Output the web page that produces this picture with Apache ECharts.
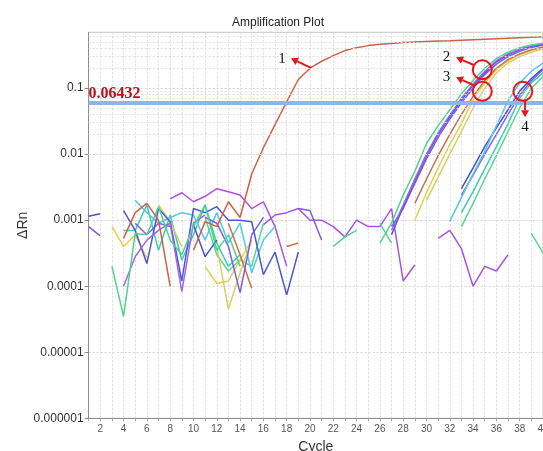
<!DOCTYPE html>
<html>
<head>
<meta charset="utf-8">
<script src="https://cdn.jsdelivr.net/npm/echarts@6/dist/echarts.min.js"></script>
<style>html,body{margin:0;padding:0;background:#fff}#c{width:543px;height:451px}</style>
</head>
<body>
<div id="c"></div>
<script>
const N = null;
const cycles = Array.from({length: 40}, (_, i) => i + 1);
const threshold = 0.06432;
const yTickLabels = ['0.000001', '0.00001', '0.0001', '0.001', '0.01', '0.1'];

// amplification curve 1
const curve1 = [N,N,N,0.00053,0.0013,0.0018,0.001,0.0001,N,0.00035,
  0.00095,0.0008,0.0019,0.0011,0.005,0.0125,0.028,0.062,0.135,0.2,
  0.255,0.31,0.37,0.41,0.44,0.46,0.475,0.49,0.5,0.51,
  0.515,0.52,0.53,0.54,0.55,0.56,0.57,0.58,0.59,0.6];
// group 2
const greenA = [N,N,0.0002,0.000035,0.00063,0.0006,0.0016,0.0005,0.0003,0.0008,
  0.0017,0.00035,0.0006,0.0002,N,N,N,N,N,N,
  N,0.0004,0.00056,0.0007,N,0.00045,0.0009,0.0024,0.0055,0.0145,
  0.027,0.047,0.082,0.13,0.2,0.28,0.35,0.41,0.45,0.48];
const purpleA = [N,N,N,0.0001,0.00028,0.0005,0.0007,0.0009,0.000083,0.0009,
  0.0012,N,N,N,N,N,N,N,N,N,
  N,N,N,N,N,N,0.0007,0.0017,0.0042,0.01,
  0.021,0.039,0.07,0.115,0.18,0.26,0.33,0.39,0.44,0.47];
const blueA = [0.00115,0.00125,N,0.0014,0.0007,0.00022,0.0015,0.00095,0.00012,0.0015,
  0.0013,0.0016,0.001,0.001,0.00095,0.00015,0.00033,0.000074,0.00033,N,
  N,N,N,N,N,N,0.0006,0.0016,0.004,0.0095,
  0.02,0.037,0.066,0.11,0.17,0.25,0.32,0.38,0.43,0.46];
const violetA = [0.0008,0.00058,N,N,N,N,N,N,N,N,
  0.0011,0.0009,0.0004,0.00008,0.0006,0.0011,N,N,0.0015,0.0014,
  0.0005,N,N,N,N,N,0.0008,0.0015,0.0036,0.0085,
  0.018,0.034,0.06,0.1,0.16,0.23,0.3,0.36,0.41,0.45];
// group 3
const brownB = [N,N,N,N,N,N,N,N,N,N,
  N,N,0.0009,0.0003,0.000093,N,N,0.0004,0.00045,N,
  N,N,N,N,N,N,N,N,0.0018,0.0042,
  0.0095,0.02,0.04,0.075,0.13,0.2,0.27,0.33,0.38,0.42];
const yellowB = [N,N,0.0008,0.0004,0.0006,0.00027,N,N,N,N,
  0.0002,0.00011,0.00012,0.00025,0.0005,N,N,N,N,N,
  N,N,N,N,N,N,N,N,0.001,0.0026,
  0.0062,0.014,0.029,0.068,0.12,0.19,0.26,0.32,0.37,0.41];
const yellowB2 = [N,N,N,N,N,N,0.0017,0.00095,0.0004,N,
  N,0.0004,0.000045,0.00016,0.0005,N,N,N,N,N,
  N,N,N,N,N,N,N,N,N,0.002,
  0.0045,0.01,0.022,0.05,0.1,0.17,0.24,0.3,0.35,0.39];
// group 4
const cyanC = [N,N,N,N,0.002,0.0013,0.0009,0.0011,0.0013,0.0012,
  0.0005,0.0013,0.00045,0.0009,0.00016,0.0005,0.0008,N,N,N,
  N,N,N,N,N,N,N,N,N,N,
  N,0.00096,0.0022,0.005,0.011,0.027,0.064,0.12,0.18,0.24];
const blueC = [N,N,N,N,N,N,N,N,N,0.00085,
  0.00028,0.0005,N,N,N,N,N,N,N,N,
  N,N,N,N,N,N,N,N,N,N,
  N,N,0.003,0.0062,0.013,0.025,0.047,0.09,0.14,0.2];
const violetC = [N,N,N,N,0.0009,0.0006,0.0009,0.0008,N,N,
  N,N,N,N,N,N,N,N,N,N,
  N,N,N,N,N,N,N,N,N,N,
  N,N,0.0024,0.0048,0.01,0.02,0.04,0.078,0.13,0.19];
const tealC = [N,N,N,0.0007,0.0007,0.0017,0.00035,0.0012,0.00025,0.0006,
  0.0017,0.00045,0.0002,0.0003,N,N,N,N,N,N,
  N,N,N,N,N,N,N,N,N,N,
  N,N,0.0013,0.0027,0.006,0.013,0.029,0.07,0.12,0.17];
const greenC = [N,N,N,N,N,N,N,N,N,N,
  0.0011,0.0003,0.00017,0.00025,0.0002,0.0009,N,N,N,N,
  N,N,N,N,N,0.0009,0.00045,N,N,N,
  N,N,0.0008,0.0018,0.0042,0.0095,0.022,0.05,0.1,0.15];
// non-amplified wells
const ntcMagenta = [N,N,N,N,N,N,N,0.0021,0.0026,0.0019,
  0.0023,0.003,0.0027,0.0024,0.0015,0.0019,0.0008,0.0002,N,N,
  N,N,N,N,N,N,N,N,N,N,
  N,N,N,N,N,N,N,N,N,N];
const ntcPurple = [N,N,N,N,N,N,N,N,N,N,
  N,N,N,N,N,0.00085,0.0012,0.0013,0.0015,0.001,
  0.001,0.0008,0.00056,0.001,0.0008,0.0008,0.0015,0.00012,0.00021,N,
  0.00053,0.0007,0.00037,0.0001,0.0002,0.00017,0.0003,N,N,N];
const ntcGreen = [N,N,N,N,N,N,N,N,N,N,
  N,N,N,N,N,N,N,N,N,N,
  N,N,N,N,N,N,N,N,N,N,
  N,N,N,N,N,N,N,N,0.00063,0.00032];

const wells = [
  ['ntcMagenta', ntcMagenta, '#b350e3'],
  ['ntcPurple', ntcPurple, '#a454df'],
  ['ntcGreen', ntcGreen, '#55d690'],
  ['greenC', greenC, '#58d88c'],
  ['tealC', tealC, '#3fcbb2'],
  ['violetC', violetC, '#8660e6'],
  ['blueC', blueC, '#4150d6'],
  ['cyanC', cyanC, '#55c8e8'],
  ['yellowB2', yellowB2, '#ddcd62'],
  ['yellowB', yellowB, '#e3d04c'],
  ['brownB', brownB, '#c8704f'],
  ['violetA', violetA, '#7d5be4'],
  ['blueA', blueA, '#4a55dc'],
  ['purpleA', purpleA, '#a064e2'],
  ['greenA', greenA, '#4dd48c'],
  ['curve1', curve1, '#cf5f47']
];

const FONT = '"Liberation Sans", Arial, sans-serif';
const SERIF = '"Liberation Serif", "Times New Roman", serif';

const minorValues = [];
for (let e = -6; e <= -1; e++) {
  for (let k = 2; k <= 9; k++) {
    const v = k * Math.pow(10, e);
    if (v < 0.7) minorValues.push(+v.toPrecision(3));
  }
}

const series = [{
  type: 'line', data: [], silent: true, z: 0,
  markLine: {
    silent: true, symbol: ['none', 'none'], animation: false,
    label: {show: false},
    lineStyle: {color: '#dedede', width: 1, type: [2, 2]},
    data: minorValues.map(v => ({yAxis: v}))
  }
}];
wells.forEach(([name, arr, color]) => {
  series.push({
    name, type: 'line', showSymbol: false, symbol: 'none', connectNulls: false,
    data: cycles.map((c, i) => [c, arr[i] == null ? '-' : arr[i]]),
    lineStyle: {color, width: 1.5}, itemStyle: {color}, z: 2
  });
});
series.push({
  type: 'line', data: [], silent: true, z: 5,
  markLine: {
    silent: true, symbol: ['none', 'none'], animation: false,
    lineStyle: {color: '#8cb6e8', width: 4, type: 'solid'},
    label: {
      show: true, position: 'insideStartTop', distance: [0, 1],
      formatter: '0.06432', color: '#b3151c', fontFamily: SERIF,
      fontWeight: 'bold', fontSize: 16
    },
    data: [{yAxis: threshold}]
  }
});

const chart = echarts.init(document.getElementById('c'), null, {renderer: 'canvas'});
chart.setOption({
  animation: false,
  backgroundColor: '#ffffff',
  title: {
    text: 'Amplification Plot', left: 273, top: 12, textAlign: 'center',
    textStyle: {fontFamily: FONT, fontSize: 12, fontWeight: 'normal', color: '#222'}
  },
  grid: {left: 88.6, top: 32.3, right: 0, bottom: 32.7, show: true, borderColor: '#c4c4c4', borderWidth: 1,
    containLabel: false, outerBoundsMode: 'none'},
  xAxis: {
    type: 'value', min: 1, max: 40, interval: 1,
    name: 'Cycle', nameLocation: 'middle', nameGap: 22,
    nameTextStyle: {fontFamily: FONT, fontSize: 14, color: '#333'},
    axisLine: {lineStyle: {color: '#8c8c8c'}},
    axisTick: {show: true, length: 3, lineStyle: {color: '#aaa'}},
    axisLabel: {fontFamily: FONT, fontSize: 10, color: '#555', margin: 6,
      formatter: v => (v % 2 === 0 ? String(v) : '')},
    splitLine: {show: true, lineStyle: {color: '#dcdcdc', type: [2, 2]}}
  },
  yAxis: {
    type: 'log', logBase: 10, min: 1e-6, max: 0.7,
    name: 'ΔRn', nameLocation: 'middle', nameRotate: 90, nameGap: 58, nameMoveOverlap: false,
    nameTextStyle: {fontFamily: FONT, fontSize: 14, color: '#333'},
    axisLine: {show: true, lineStyle: {color: '#8c8c8c'}},
    axisTick: {show: true, length: 4, lineStyle: {color: '#888'}},
    axisLabel: {
      fontFamily: FONT, fontSize: 12, color: '#333', margin: 5, showMaxLabel: false,
      formatter: v => {
        const e = Math.round(Math.log10(v));
        if (Math.abs(Math.log10(v) - e) > 1e-6) return '';
        return yTickLabels[e + 6] || '';
      }
    },
    splitLine: {show: true, lineStyle: {color: '#d4d4d4', type: [2, 2]}}
  },
  series
});

// annotations placed in data coordinates
const RED = '#e8141b';
const circles = [[34.79, 0.189], [34.79, 0.0894], [38.27, 0.0894]];
const arrows = [
  [[20.09, 0.203], [18.37, 0.283]],
  [[34.12, 0.2216], [32.54, 0.293]],
  [[34.08, 0.1103], [32.54, 0.1458]],
  [[38.46, 0.0642], [38.46, 0.0361]]
];
const labels = [['1', 17.6, 0.273], ['2', 31.72, 0.293], ['3', 31.72, 0.148], ['4', 38.46, 0.0259]];
const px = p => chart.convertToPixel({gridIndex: 0}, p);
const graphics = [];
circles.forEach(c => {
  const [x, y] = px(c);
  graphics.push({type: 'circle', z: 100, shape: {cx: x, cy: y, r: 9.5},
    style: {fill: 'none', stroke: RED, lineWidth: 2}});
});
arrows.forEach(([t, h]) => {
  const [x1, y1] = px(t), [x2, y2] = px(h);
  const dx = x2 - x1, dy = y2 - y1, L = Math.hypot(dx, dy);
  const ux = dx / L, uy = dy / L, hl = 7, hw = 4;
  const bx = x2 - ux * hl, by = y2 - uy * hl;
  graphics.push({type: 'line', z: 100, shape: {x1, y1, x2: bx, y2: by},
    style: {stroke: RED, lineWidth: 2}});
  graphics.push({type: 'polygon', z: 100,
    shape: {points: [[x2, y2], [bx - uy * hw, by + ux * hw], [bx + uy * hw, by - ux * hw]]},
    style: {fill: RED}});
});
labels.forEach(([t, c, v]) => {
  const [x, y] = px([c, v]);
  graphics.push({type: 'text', z: 100, x, y,
    style: {text: t, fontFamily: SERIF, fontSize: 15, fill: '#111', align: 'center', verticalAlign: 'middle'}});
});
chart.setOption({graphic: graphics});
</script>
</body>
</html>
